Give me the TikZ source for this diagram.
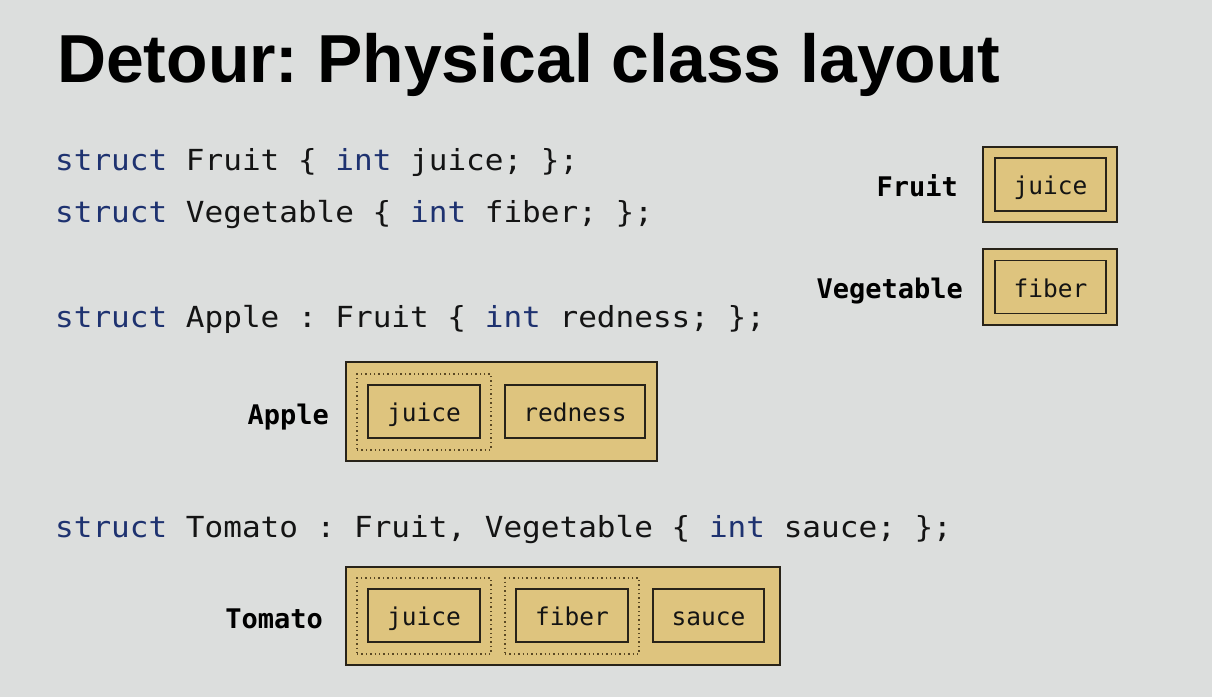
\documentclass[tikz,border=0pt]{standalone}
\usepackage{fontspec}
\setmainfont{Liberation Sans}
\newfontfamily\codefont{DejaVu Sans Mono}
\newfontfamily\codewide[FakeStretch=1.07]{DejaVu Sans Mono}
\definecolor{bgcol}{RGB}{220,222,221}
\definecolor{tanfill}{RGB}{222,196,126}
\definecolor{kwcol}{RGB}{30,50,112}
\definecolor{codecol}{RGB}{20,20,20}
\definecolor{edgecol}{RGB}{40,35,25}
\definecolor{dotcol}{RGB}{90,72,35}
\newcommand{\kw}[1]{\textcolor{kwcol}{#1}}
\frenchspacing
\begin{document}
\begin{tikzpicture}[x=1pt,y=-1pt,
  titlestyle/.style={anchor=base west, inner sep=0, font=\fontsize{67.9}{67.9}\selectfont\bfseries},
  codeline/.style={anchor=base west, inner sep=0, text=codecol, font=\codewide\fontsize{29}{29}\selectfont},
  outerbox/.style={draw=edgecol, line width=1.3pt, fill=tanfill, inner sep=0},
  dotbox/.style={draw=dotcol, line width=1.3pt, dash pattern=on 1.4pt off 3pt, inner sep=0, minimum width=134pt, minimum height=76pt},
  field/.style={draw=edgecol, line width=1.3pt, fill=tanfill, inner sep=0, minimum height=53pt, text=codecol,
     font=\codefont\fontsize{24.5}{24.5}\selectfont, text height=20pt, text depth=0pt},
  label/.style={anchor=base east, inner sep=0, font=\codefont\bfseries\fontsize{27}{27}\selectfont}
]
\useasboundingbox (0,0) rectangle (1212,697);
\fill[bgcol] (0,0) rectangle (1212,697);

\node[titlestyle] (title) at (57,82) {Detour: Physical class layout};

\node[codeline] (c1) at (55,170) {\kw{struct} Fruit \{ \kw{int} juice; \};};
\node[codeline] (c2) at (55,222) {\kw{struct} Vegetable \{ \kw{int} fiber; \};};
\node[codeline] (c3) at (55,327) {\kw{struct} Apple : Fruit \{ \kw{int} redness; \};};
\node[codeline] (c4) at (55,537) {\kw{struct} Tomato : Fruit, Vegetable \{ \kw{int} sauce; \};};

% Fruit
\node[outerbox, minimum width=134pt, minimum height=75pt] (fruitbox) at (1050,184.5) {};
\node[field, minimum width=111pt] (fjuice) at (1050.5,184.5) {juice};
\node[label] (fruitlbl) at (958,196) {Fruit};

% Vegetable
\node[outerbox, minimum width=134pt, minimum height=76pt] (vegbox) at (1050,287) {};
\node[field, minimum width=111pt] (vfiber) at (1050.5,287) {fiber};
\node[label] (veglbl) at (963,298) {Vegetable};

% Apple
\node[outerbox, minimum width=311pt, minimum height=99pt] (applebox) at (501.5,411.5) {};
\node[dotbox] (applefruit) at (424,412) {};
\node[field, minimum width=112pt] (ajuice) at (424,411.5) {juice};
\node[field, minimum width=140pt] (aredness) at (575,411.5) {redness};
\node[label] (applelbl) at (329,424) {Apple};

% Tomato
\node[outerbox, minimum width=434pt, minimum height=98pt] (tomatobox) at (563,616) {};
\node[dotbox] (tomfruit) at (424,616) {};
\node[dotbox] (tomveg) at (572,616) {};
\node[field, minimum width=112pt] (tjuice) at (424,615.5) {juice};
\node[field, minimum width=112pt] (tfiber) at (572,615.5) {fiber};
\node[field, minimum width=111pt] (tsauce) at (708.5,615.5) {sauce};
\node[label] (tomatolbl) at (323,628) {Tomato};
\end{tikzpicture}
\end{document}
